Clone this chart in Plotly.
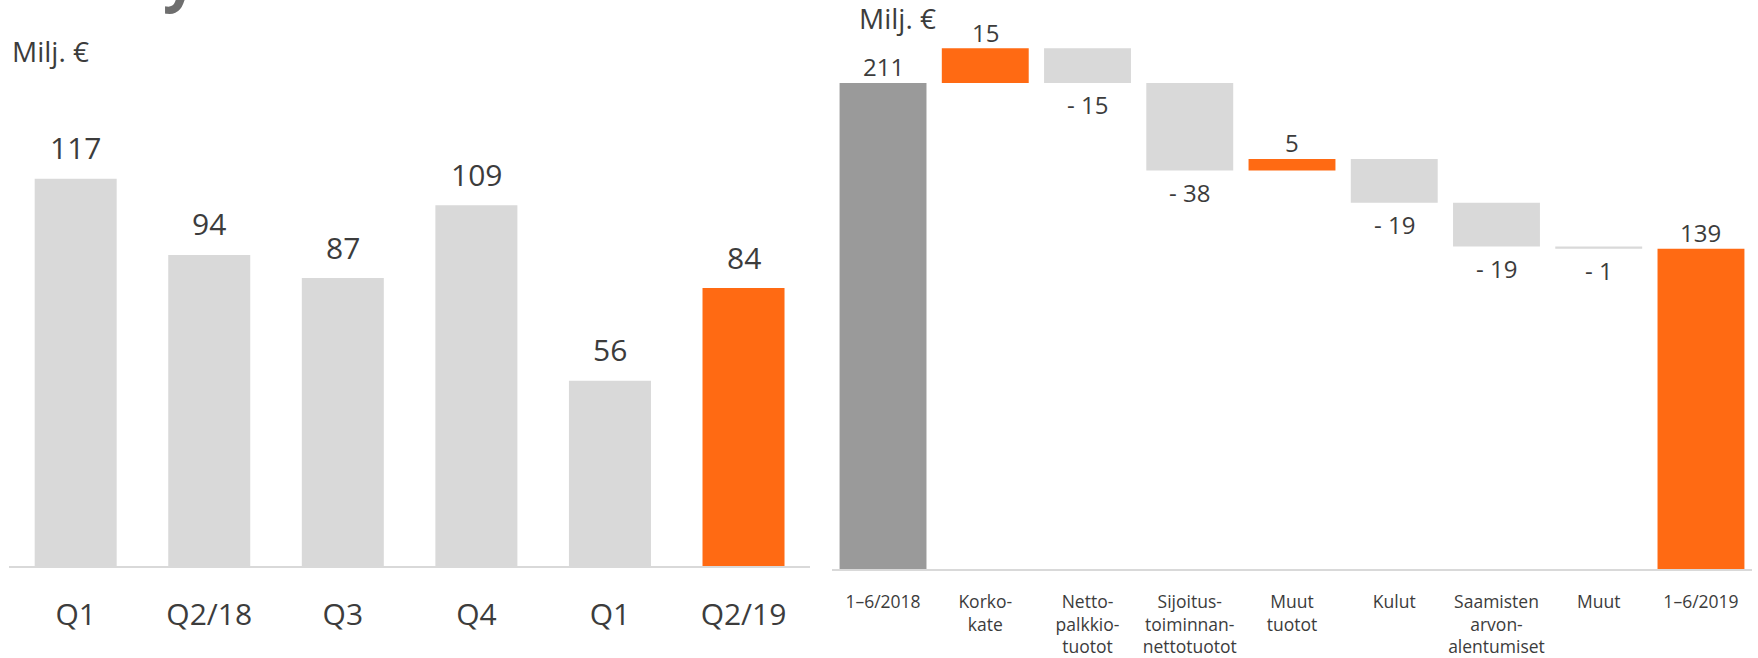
import plotly.graph_objects as go

# ---- data ----
quarters = ["Q1", "Q2/18", "Q3", "Q4", "Q1", "Q2/19"]
quarter_values = [117, 94, 87, 109, 56, 84]

wf_labels = ["1–6/2018", "Korko-<br>kate", "Netto-<br>palkkio-<br>tuotot",
             "Sijoitus-<br>toiminnan-<br>nettotuotot", "Muut<br>tuotot", "Kulut",
             "Saamisten<br>arvon-<br>alentumiset", "Muut", "1–6/2019"]
wf_values = [211, 15, -15, -38, 5, -19, -19, -1, 139]
wf_measure = ["absolute", "relative", "relative", "relative", "relative",
              "relative", "relative", "relative", "total"]

# ---- styles ----
ORANGE = "#FF6A13"
LIGHT = "#D9D9D9"
DARK = "#9A9A9A"
TXT = "#3C3C3C"
FONT = "Open Sans"

fig = go.Figure()

# left chart
lx = list(range(len(quarters)))
lcolors = [LIGHT] * (len(quarters) - 1) + [ORANGE]
fig.add_trace(go.Bar(x=lx, y=quarter_values, marker=dict(color=lcolors, line=dict(width=0)),
                     width=0.614, xaxis="x", yaxis="y", showlegend=False, hoverinfo="skip"))

# right chart (waterfall built from bars with bases)
rx = list(range(len(wf_labels)))
bases, ys, colors = [], [], []
running = 0
for v, m in zip(wf_values, wf_measure):
    if m == "absolute":
        bases.append(0); ys.append(v); colors.append(DARK); running = v
    elif m == "total":
        bases.append(0); ys.append(v); colors.append(ORANGE)
    else:
        bases.append(running); ys.append(v)
        colors.append(ORANGE if v > 0 else LIGHT)
        running += v
fig.add_trace(go.Bar(x=rx, y=ys, base=bases, marker=dict(color=colors, line=dict(width=0)),
                     width=0.85, xaxis="x2", yaxis="y2", showlegend=False, hoverinfo="skip"))

annotations = []
for i, v in zip(lx, quarter_values):
    annotations.append(dict(x=i, y=v, xref="x", yref="y", text=str(v), showarrow=False,
                            yanchor="middle", yshift=31, font=dict(size=30, color=TXT, family=FONT)))
for i, (v, b) in enumerate(zip(ys, bases)):
    if v >= 0:
        annotations.append(dict(x=i, y=b + v, xref="x2", yref="y2", text=str(v), showarrow=False,
                                yanchor="middle", yshift=16, font=dict(size=24, color=TXT, family=FONT)))
    else:
        annotations.append(dict(x=i, y=b + v, xref="x2", yref="y2", text="- " + str(abs(v)),
                                showarrow=False, yanchor="middle", yshift=-22,
                                font=dict(size=24, color=TXT, family=FONT)))

annotations.append(dict(x=10 / 1758, y=1 - 52 / 658, xref="paper", yref="paper", text="Milj. €",
                        showarrow=False, xanchor="left", yanchor="middle",
                        font=dict(size=28, color=TXT, family=FONT)))
annotations.append(dict(x=857 / 1758, y=1 - 18 / 658, xref="paper", yref="paper", text="Milj. €",
                        showarrow=False, xanchor="left", yanchor="middle",
                        font=dict(size=28, color=TXT, family=FONT)))
# cropped title descender at the top edge
annotations.append(dict(x=180 / 1758, y=1 + 24 / 658, xref="paper", yref="paper", text="<b>y</b>",
                        showarrow=False, xanchor="center", yanchor="middle",
                        font=dict(size=60, color="#6E6E6E", family=FONT)))

LBASE = 572
RBASE = 575
fig.update_layout(
    width=1758, height=658,
    margin=dict(l=0, r=0, t=0, b=0),
    paper_bgcolor="white", plot_bgcolor="white",
    font=dict(family=FONT, color=TXT),
    annotations=annotations,
    xaxis=dict(domain=[8.9 / 1758, 810.3 / 1758], range=[-0.5, 5.5], tickvals=lx, ticktext=quarters,
               showline=True, linecolor=LIGHT, linewidth=2, showgrid=False, zeroline=False,
               ticks="", ticklabelstandoff=21, tickfont=dict(size=30, color=TXT, family=FONT)),
    yaxis=dict(domain=[(658 - LBASE) / 658, 1], range=[0, LBASE / 3.344], visible=False),
    xaxis2=dict(domain=[831.9 / 1758, 1752.1 / 1758], range=[-0.5, 8.5], tickvals=rx,
                ticktext=wf_labels, showline=True, linecolor=LIGHT, linewidth=2, showgrid=False,
                zeroline=False, ticks="", ticklabelstandoff=16, anchor="y2",
                tickfont=dict(size=17.5, color=TXT, family=FONT)),
    yaxis2=dict(domain=[(658 - RBASE) / 658, 1], range=[0, RBASE / 2.328], visible=False, anchor="x2"),
)

fig.write_html("out.html", config={"displayModeBar": False},
               post_script="document.body.style.margin='0';document.body.style.overflow='hidden';")
